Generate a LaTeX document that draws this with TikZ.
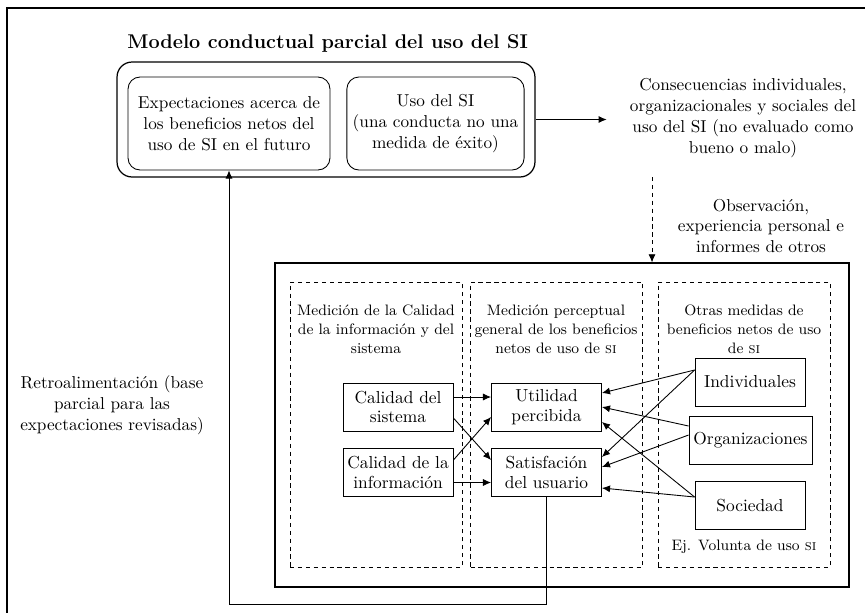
\documentclass[tikz,border=0pt]{standalone}
\usepackage{fontspec}
\usepackage{tikz}
\usetikzlibrary{arrows.meta}
\newcommand{\fTitle}{\fontsize{11.3}{13}\selectfont}
\newcommand{\fText}{\fontsize{9.8}{11.8}\selectfont}
\newcommand{\fBox}{\fontsize{9.9}{11.3}\selectfont}
\newcommand{\fHead}{\fontsize{8.6}{10.8}\selectfont}

\begin{document}
\begin{tikzpicture}[x=0.02cm, y=-0.02cm, line width=0.5pt,
    >={Latex[length=4.6pt,width=4pt]},
    roundbox/.style={draw, rounded corners=0.24cm, align=center, font=\fText},
    box/.style={draw, align=center, minimum width=2.2cm, minimum height=0.96cm, inner sep=1pt, font=\fBox},
    dashbox/.style={draw, line width=0.45pt, dash pattern=on 2.4pt off 2.1pt, minimum width=3.44cm, minimum height=5.7cm},
    heading/.style={align=center, font=\fHead}]
    \useasboundingbox (0,0) rectangle (865,613);
    \draw[line width=0.8pt] (865,8) -- (7,8) -- (7,613);

    \node (title) [anchor=west, inner sep=0pt, font=\fTitle\bfseries] at (127,43) {Modelo conductual parcial del uso del SI};
    \node (model) [draw, rounded corners=0.3cm, line width=0.7pt, minimum width=8.36cm, minimum height=2.3cm] at (326,119.5) {};
    \node (expect) [roundbox, minimum width=4.04cm, minimum height=1.86cm] at (229,123.5) {Expectaciones acerca de\\los beneficios netos del\\uso de SI en el futuro};
    \node (uso) [roundbox, minimum width=3.5cm, minimum height=1.86cm] at (435.5,123.5) {Uso del SI\\(una conducta no una\\medida de éxito)};

    \node (conseq) [align=center, font=\fText] at (743,118) {Consecuencias individuales,\\organizacionales y sociales del\\uso del SI (no evaluado como\\bueno o malo)};
    \node (obs) [align=center, font=\fText] at (761,226) {Observación,\\experiencia personal e\\informes de otros};
    \node (retro) [align=center, font=\fText] at (112,405) {Retroalimentación (base\\parcial para las\\expectaciones revisadas)};

    \node (eval) [draw, line width=0.7pt, minimum width=11.48cm, minimum height=6.48cm] at (562,425) {};
    \node (quality) [dashbox] at (376,424.5) {};
    \node (perceived) [dashbox] at (556.5,424.5) {};
    \node (other) [dashbox] at (744,424.5) {};
    \node (qualityTxt) [heading] at (376,329) {Medición de la Calidad\\de la información y del\\sistema};
    \node (perceivedTxt) [heading] at (556,329) {Medición perceptual\\general de los beneficios\\netos de uso de \textsc{si}};
    \node (otherTxt) [heading] at (744,329) {Otras medidas de\\beneficios netos de uso\\de \textsc{si}};

    \node (calsis) [box] at (398,407) {Calidad del\\sistema};
    \node (calinf) [box] at (398,472.5) {Calidad de la\\información};
    \node (util) [box] at (546.5,407) {Utilidad\\percibida};
    \node (satisf) [box] at (546.5,472.5) {Satisfación\\del usuario};
    \node (indiv) [box] at (750,382) {Individuales};
    \node (organ) [box, minimum width=2.46cm] at (750.5,440.5) {Organizaciones};
    \node (socied) [box] at (750,505.5) {Sociedad};
    \node (example) [font=\fHead] at (744,547) {Ej. Volunta de uso \textsc{si}};

    \draw[->] ([yshift=0.2cm]calsis.east) -- ([yshift=0.2cm]util.west);
    \draw[->] ([yshift=-0.22cm]calsis.east) -- ([yshift=0.25cm]satisf.west);
    \draw[->] ([yshift=0.25cm]calinf.east) -- ([yshift=-0.2cm]util.west);
    \draw[->] ([yshift=-0.2cm]calinf.east) -- ([yshift=-0.2cm]satisf.west);

    \draw[->] ([yshift=0.24cm]indiv.west) -- ([yshift=0.28cm]util.east);
    \draw[->] ([yshift=0.24cm]indiv.west) -- ([yshift=0.31cm]satisf.east);
    \draw[->] ([yshift=0.29cm]organ.west) -- (util.east);
    \draw[->] ([yshift=0.11cm]organ.west) -- ([yshift=0.11cm]satisf.east);
    \draw[->] ([yshift=0.17cm]socied.west) -- ([yshift=-0.3cm]util.east);
    \draw[->] ([yshift=0.17cm]socied.west) -- ([yshift=-0.31cm]satisf.east);

    \draw[->, shorten >=0.34cm] (model.east) -- (model.east -| conseq.west);
    \coordinate (obsStart) at (652,177);
    \draw[->, line width=0.45pt, dash pattern=on 2.4pt off 2.1pt] (obsStart) -- (obsStart |- eval.north);
    \coordinate (fbTurn) at (546.5,604);
    \draw[->] (satisf.south) -- (fbTurn) -| (expect.south);
\end{tikzpicture}
\end{document}
